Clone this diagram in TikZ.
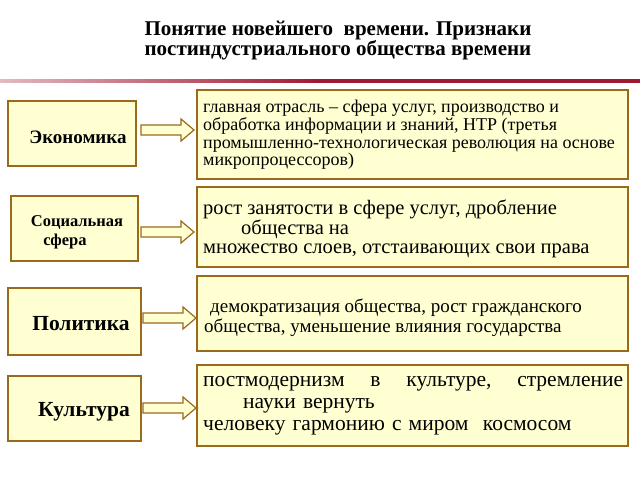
\documentclass[tikz,border=0pt]{standalone}
\usepackage{fontspec}
\setmainfont{Liberation Serif}
\definecolor{bx}{HTML}{FFFFD2}
\definecolor{bd}{HTML}{9A6A1C}
\definecolor{rl}{HTML}{A01830}
\begin{document}
\begin{tikzpicture}[x=1pt,y=-1pt,
 lb/.style={draw=bd,line width=1.5pt,fill=bx},
 ar/.style={draw=bd,line width=1.2pt,fill=bx,line join=miter},
 rt/.style={anchor=north west,align=left,inner sep=0pt}]
\useasboundingbox (0,0) rectangle (640,480);
\node[align=center,font=\bfseries\fontsize{21}{20}\selectfont] (title) at (338,41) {Понятие новейшего\ \ времени. Признаки\\постиндустриального общества времени};
\shade[left color=rl!30,right color=rl,middle color=rl] (0,79) rectangle (640,82);
% left boxes
\draw[lb] (8,101) rectangle (136,166); \node[font=\bfseries\fontsize{19}{22}\selectfont] (l1) at (78,137) {Экономика};
\draw[lb] (11,196) rectangle (138,261); \node[font=\bfseries\fontsize{16.5}{19}\selectfont,align=center] (l2) at (73,232) {\hspace*{8pt}Социальная\\сфера\hspace*{16pt}};
\draw[lb] (8,288) rectangle (141,355); \node[font=\bfseries\fontsize{21.5}{24}\selectfont] (l3) at (81,324) {Политика};
\draw[lb] (8,376) rectangle (141,441); \node[font=\bfseries\fontsize{21.5}{24}\selectfont] (l4) at (84,412) {Культура};
% right boxes
\draw[lb] (197,90) rectangle (628,179);
\draw[lb] (197,187) rectangle (628,267);
\draw[lb] (197,276) rectangle (628,351);
\draw[lb] (197,365) rectangle (628,446);
\node[rt,font=\fontsize{18}{17.7}\selectfont] (r1) at (203,100) {главная отрасль – сфера услуг, производство и\\обработка информации и знаний, НТР (третья\\промышленно-технологическая революция на основе\\микропроцессоров)};
\node[rt,font=\fontsize{20.5}{19.5}\selectfont] (r2) at (203,200) {рост занятости в сфере услуг, дробление\\\hspace*{38pt}общества на\\множество слоев, отстаивающих свои права};
\node[rt,font=\fontsize{19}{20}\selectfont] (r3) at (204,299) {\hspace*{6pt}демократизация общества, рост гражданского\\общества, уменьшение влияния государства};
\node[rt,font=\fontsize{21.5}{22}\selectfont,text width=420pt] (r4) at (203,376) {постмодернизм\hfill в\hfill культуре,\hfill стремление\\\hspace*{40pt}науки вернуть\\человеку гармонию с миром\ \ космосом};
% arrows
\foreach \n/\x/\y in {a1/141/130,a2/141/232,a3/143/318,a4/143/408}{
 \draw[ar] (\x,\y-5) -- (\x+40,\y-5) -- (\x+40,\y-11) -- (\x+53,\y) -- (\x+40,\y+11) -- (\x+40,\y+5) -- (\x,\y+5) -- cycle;
 \coordinate (\n) at (\x,\y);}
\end{tikzpicture}
\end{document}
